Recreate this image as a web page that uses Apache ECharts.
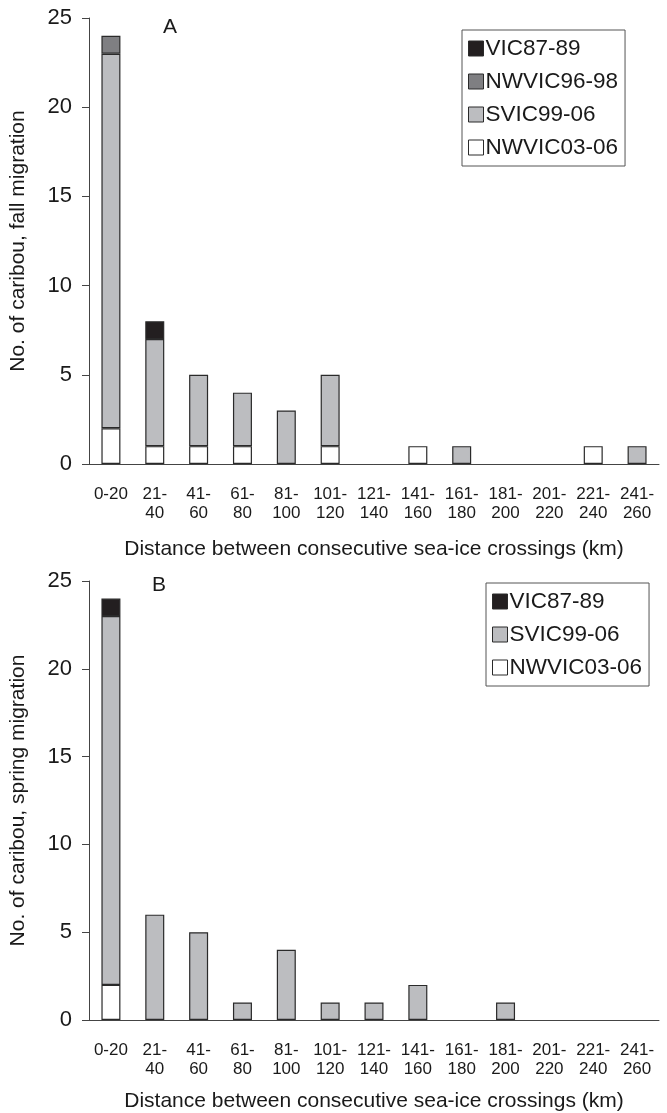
<!DOCTYPE html>
<html>
<head>
<meta charset="utf-8">
<script src="https://cdn.jsdelivr.net/npm/echarts@6/dist/echarts.min.js"></script>
<style>
  html, body { margin: 0; padding: 0; background: #fff; }
  #chart { width: 667px; height: 1113px; }
</style>
</head>
<body>
<div id="chart"></div>
<script>
// distance classes (km)
var categories = ["0-20", "21-40", "41-60", "61-80", "81-100", "101-120", "121-140",
                  "141-160", "161-180", "181-200", "201-220", "221-240", "241-260"];

// panel A, fall migration
var fallNWVIC0306 = [2, 1, 1, 1, 0, 1, 0, 1, 0, 0, 0, 1, 0];
var fallSVIC9906  = [21, 6, 4, 3, 3, 4, 0, 0, 1, 0, 0, 0, 1];
var fallNWVIC9698 = [1, 0, 0, 0, 0, 0, 0, 0, 0, 0, 0, 0, 0];
var fallVIC8789   = [0, 1, 0, 0, 0, 0, 0, 0, 0, 0, 0, 0, 0];

// panel B, spring migration
var springNWVIC0306 = [2, 0, 0, 0, 0, 0, 0, 0, 0, 0, 0, 0, 0];
var springSVIC9906  = [21, 6, 5, 1, 4, 1, 1, 2, 0, 1, 0, 0, 0];
var springVIC8789   = [1, 0, 0, 0, 0, 0, 0, 0, 0, 0, 0, 0, 0];

var colors = {
    "VIC87-89": "#231f20",
    "NWVIC96-98": "#7f7f82",
    "SVIC99-06": "#bcbdc0",
    "NWVIC03-06": "#ffffff"
};

var font = "Liberation Sans, Arial, sans-serif";
var ink = "#1a1a1a";

function clean(arr) {
    return arr.map(function (v) { return v === 0 ? null : v; });
}

function bar(name, data, idx, stack) {
    return {
        name: name,
        type: "bar",
        stack: stack,
        xAxisIndex: idx,
        yAxisIndex: idx,
        barWidth: 19,
        data: clean(data),
        itemStyle: { color: colors[name], borderColor: "#2a2a2a", borderWidth: 1.2 },
        emphasis: { disabled: true }
    };
}

function xAxis(gridIndex, gap) {
    return {
        type: "category",
        gridIndex: gridIndex,
        data: categories,
        name: "Distance between consecutive sea-ice crossings (km)",
        nameLocation: "middle",
        nameGap: gap,
        nameTextStyle: { fontFamily: font, fontSize: 21, color: ink },
        axisLine: { lineStyle: { color: "#444", width: 1 } },
        axisTick: { length: 7, lineStyle: { color: "#444" } },
        axisLabel: {
            interval: 0,
            fontFamily: font,
            fontSize: 17,
            color: ink,
            lineHeight: 19,
            margin: 21,
            formatter: function (v) { return v === "0-20" ? v : v.replace("-", "-\n"); }
        }
    };
}

function yAxis(gridIndex, title) {
    return {
        type: "value",
        gridIndex: gridIndex,
        min: 0,
        max: 25,
        interval: 5,
        name: title,
        nameLocation: "middle",
        nameGap: 60,
        nameTextStyle: { fontFamily: font, fontSize: 21, color: ink },
        splitLine: { show: false },
        axisLine: { show: true, lineStyle: { color: "#444", width: 1 } },
        axisTick: { show: true, length: 7, lineStyle: { color: "#444" } },
        axisLabel: { fontFamily: font, fontSize: 22, color: ink, margin: 17 }
    };
}

function legend(names, left, top) {
    return {
        orient: "vertical",
        left: left,
        top: top,
        data: names.map(function (n) {
            return { name: n, itemStyle: { borderColor: "#2a2a2a", borderWidth: 1 } };
        }),
        icon: "rect",
        itemWidth: 15,
        itemHeight: 15,
        itemGap: 10,
        selectedMode: false,
        borderColor: "#555",
        borderWidth: 1,
        padding: [7, 7, 7, 6],
        textStyle: { fontFamily: font, fontSize: 22.5, lineHeight: 23, color: ink, padding: [0, 0, 0, -3] }
    };
}

var chart = echarts.init(document.getElementById("chart"));
var option = {
    backgroundColor: "#fff",
    animation: false,
    title: [
        { text: "A", left: 163, top: 17, padding: 0, textStyle: { fontFamily: font, fontSize: 21, fontWeight: "normal", color: ink } },
        { text: "B", left: 152, top: 575, padding: 0, textStyle: { fontFamily: font, fontSize: 21, fontWeight: "normal", color: ink } }
    ],
    legend: [
        legend(["VIC87-89", "NWVIC96-98", "SVIC99-06", "NWVIC03-06"], 462, 30),
        legend(["VIC87-89", "SVIC99-06", "NWVIC03-06"], 486, 583)
    ],
    grid: [
        { left: 84, top: 18, width: 575, height: 446 },
        { left: 84, top: 581, width: 575, height: 439 }
    ],
    xAxis: [xAxis(0, 75), xAxis(1, 71)],
    yAxis: [yAxis(0, "No. of caribou, fall migration"), yAxis(1, "No. of caribou, spring migration")],
    series: [
        bar("NWVIC03-06", fallNWVIC0306, 0, "A"),
        bar("SVIC99-06", fallSVIC9906, 0, "A"),
        bar("NWVIC96-98", fallNWVIC9698, 0, "A"),
        bar("VIC87-89", fallVIC8789, 0, "A"),
        bar("NWVIC03-06", springNWVIC0306, 1, "B"),
        bar("SVIC99-06", springSVIC9906, 1, "B"),
        bar("VIC87-89", springVIC8789, 1, "B")
    ]
};
chart.setOption(option);
</script>
</body>
</html>
